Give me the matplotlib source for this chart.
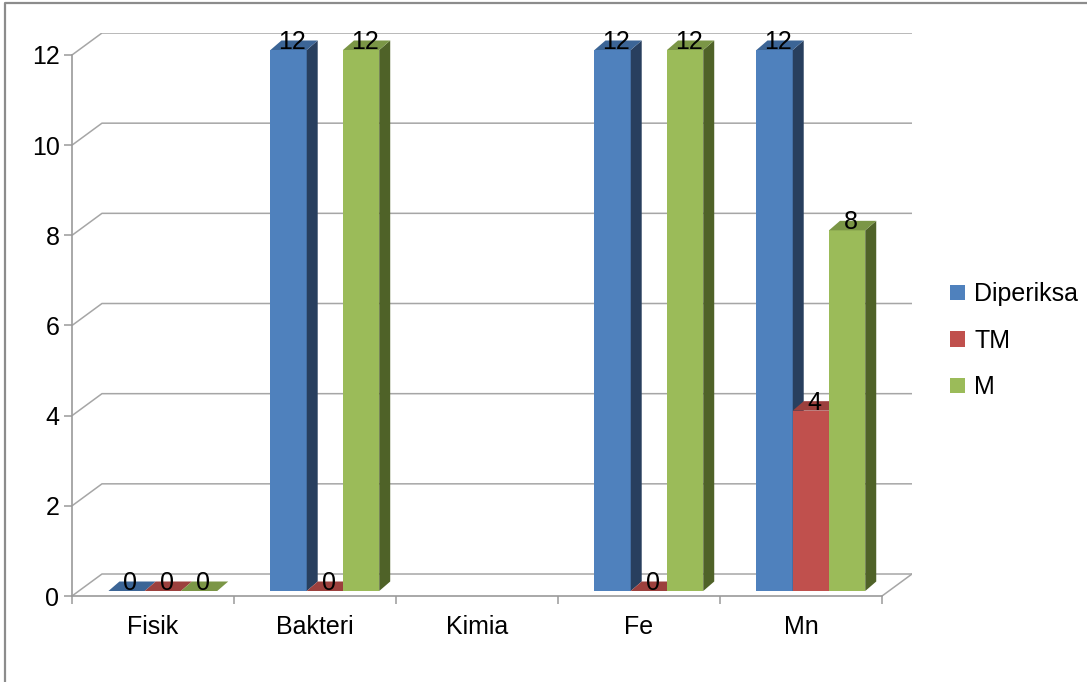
import numpy as np
import matplotlib
matplotlib.use("Agg")
import matplotlib.pyplot as plt
from matplotlib.patches import Polygon, Patch
from matplotlib.lines import Line2D

# ---- data ----
categories = ["Fisik", "Bakteri", "Kimia", "Fe", "Mn"]
diperiksa = [0, 12, np.nan, 12, 12]
tm = [0, 0, np.nan, 0, 4]
m = [0, 12, np.nan, 12, 8]
series_names = ["Diperiksa", "TM", "M"]
y_ticks = [0, 2, 4, 6, 8, 10, 12]

# ---- styles ----
front_cols = ["#4F81BD", "#C0504D", "#9BBB59"]
side_cols = ["#283F5E", "#7A2B29", "#4F6228"]
top_cols = ["#3C6596", "#9C403D", "#7B9646"]
grid_col = "#A6A6A6"
axis_col = "#9A9A9A"
FS = 18
plt.rcParams["font.family"] = ["Liberation Sans", "DejaVu Sans"]

W, H = 1087, 682
fig = plt.figure(figsize=(W / 100, H / 100), dpi=100)

# pixel scales
px_x = 162.2   # px per category
px_y = 45.1    # px per value unit
dxb, dyb = 30 / px_x, 22 / px_y      # back wall offset
ddx, ddy = 11 / px_x, 9.5 / px_y     # bar depth
base = 5 / px_y                      # bar bottom
bw = 36.3 / px_x                     # bar width
g0 = -0.275                          # group left offset from center

left, right, top, bottom = 72, 912, 33, 596
ax = fig.add_axes([left / W, (H - bottom) / H, (right - left) / W, (bottom - top) / H])
ax.set_xlim(-0.5, 4.5 + dxb)
ax.set_ylim(0, 12 + dyb)

# back wall gridlines
for v in y_ticks:
    ax.plot([-0.5, -0.5 + dxb, 4.5 + dxb], [v, v + dyb, v + dyb],
            color=grid_col, lw=1.1, zorder=1, solid_capstyle="butt")
# floor right edge
ax.plot([4.5, 4.5 + dxb], [0, dyb], color=grid_col, lw=1.1, zorder=1)

# spines
for s in ["top", "right"]:
    ax.spines[s].set_visible(False)
ax.spines["left"].set_bounds(0, 12)
ax.spines["bottom"].set_bounds(-0.5, 4.5)
for s in ["left", "bottom"]:
    ax.spines[s].set_color(axis_col)
    ax.spines[s].set_linewidth(1.2)
    ax.spines[s].set_zorder(2)

ax.set_yticks(y_ticks)
ax.set_yticklabels([str(t) for t in y_ticks], fontsize=FS)
ax.tick_params(axis="y", length=6, width=1.1, color=axis_col, pad=3)

ax.set_xticks(np.arange(-0.5, 5.0, 1.0))
ax.set_xticklabels([])
ax.tick_params(axis="x", which="major", length=6, width=1.1, color=axis_col)
ax.set_xticks(np.arange(len(categories)), minor=True)
ax.set_xticklabels(categories, minor=True, fontsize=FS)
ax.tick_params(axis="x", which="minor", length=0, pad=14)

# bars
series = [diperiksa, tm, m]
z = 3
for i in range(len(categories)):
    for k, vals in enumerate(series):
        v = vals[i]
        if np.isnan(v):
            continue
        x0 = i + g0 + k * bw
        y0 = base
        y1 = base + v
        if v > 0:
            ax.bar(x0, v, width=bw, bottom=y0, align="edge",
                   color=front_cols[k], edgecolor="none", zorder=z)
            side = Polygon([(x0 + bw, y0), (x0 + bw + ddx, y0 + ddy),
                            (x0 + bw + ddx, y1 + ddy), (x0 + bw, y1)],
                           closed=True, facecolor=side_cols[k], edgecolor="none", zorder=z)
            ax.add_patch(side)
        topf = Polygon([(x0, y1), (x0 + bw, y1), (x0 + bw + ddx, y1 + ddy), (x0 + ddx, y1 + ddy)],
                       closed=True, facecolor=top_cols[k], edgecolor="none", zorder=z)
        ax.add_patch(topf)
        z += 1
        ax.text(x0 + bw / 2 + ddx / 2 - 0.01, y1 + ddy - 0.03, f"{int(v)}", ha="center", va="center",
                fontsize=FS, color="black", zorder=50)

# legend
handles = [Patch(facecolor=c, edgecolor="none") for c in front_cols]
fig.legend(handles, series_names, loc="center left",
           bbox_to_anchor=(950 / W, 1 - 341 / H), frameon=False, fontsize=FS,
           handlelength=0.58, handleheight=0.58, handletextpad=0.4,
           labelspacing=0.9, borderpad=0, borderaxespad=0)

# outer chart border
fig.add_artist(Line2D([5 / W, 5 / W, 1.01], [-0.01, 1 - 3 / H, 1 - 3 / H],
                      transform=fig.transFigure, color="#8C8C8C", lw=1.6))

fig.savefig("out.png", dpi=100)
